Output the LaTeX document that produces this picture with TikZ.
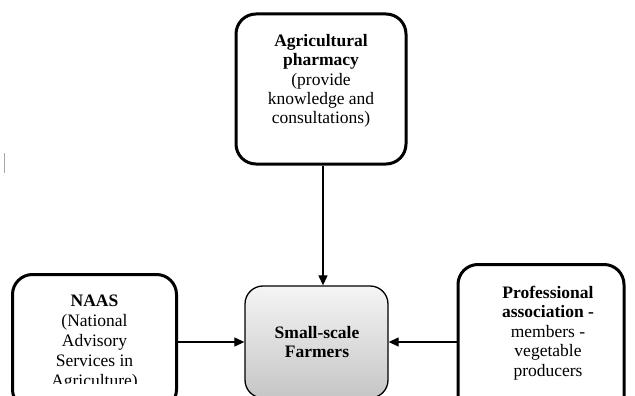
\documentclass[tikz,border=0pt]{standalone}
\usepackage{fontspec}
\setmainfont{Liberation Serif}
\usetikzlibrary{arrows.meta}
\begin{document}
\begin{tikzpicture}[x=1pt,y=-1pt,
  outerbox/.style={draw=black,line width=3pt,rounded corners=20pt,inner sep=0pt},
  centerbox/.style={draw=black,line width=1.3pt,rounded corners=18pt,inner sep=0pt,
    top color=gray!8,bottom color=gray!45},
  boxtext/.style={align=center,inner sep=0pt,anchor=north,font=\fontsize{17.5}{19.4}\selectfont},
  conn/.style={line width=1.2pt,-{Triangle[length=10pt,width=9pt]}}]
\useasboundingbox (0,0) rectangle (635,396);
\clip (0,0) rectangle (635,396);
\fill[white] (0,0) rectangle (635,396);
% boxes
\node[outerbox,minimum width=170pt,minimum height=150pt] (pharm) at (321,89) {};
\node[centerbox,minimum width=143pt,minimum height=112pt] (farm) at (316.5,342) {};
\node[outerbox,minimum width=164pt,minimum height=135pt] (naas) at (94.5,342) {};
\node[outerbox,minimum width=166pt,minimum height=155pt] (prof) at (541,342) {};
% texts
\node[boxtext] (tpharm) at (321,34) {\textbf{Agricultural}\\\textbf{pharmacy}\\(provide\\knowledge and\\consultations)};
\node[boxtext] (tfarm) at (317,326) {\textbf{Small-scale}\\\textbf{Farmers}};
\begin{scope}
\clip (20,280) rectangle (170,383);
\node[boxtext,font=\fontsize{17.5}{20}\selectfont] (tnaas) at (94.5,295) {\textbf{NAAS}\\(National\\Advisory\\Services in\\Agriculture)};
\end{scope}
\node[boxtext] (tprof) at (548,286) {\textbf{Professional}\\\textbf{association -}\\members -\\vegetable\\producers};
% connectors
\draw[conn] (pharm.south -| 323,0) -- (farm.north -| 323,0);
\draw[conn] (naas.east) -- (farm.west);
\draw[conn] (prof.west) -- (farm.east);
% small artifact line
\coordinate (m1) at (4,153);
\coordinate (m2) at (4,173);
\draw[gray!70,line width=1pt] (m1) -- (m2);
\end{tikzpicture}
\end{document}
